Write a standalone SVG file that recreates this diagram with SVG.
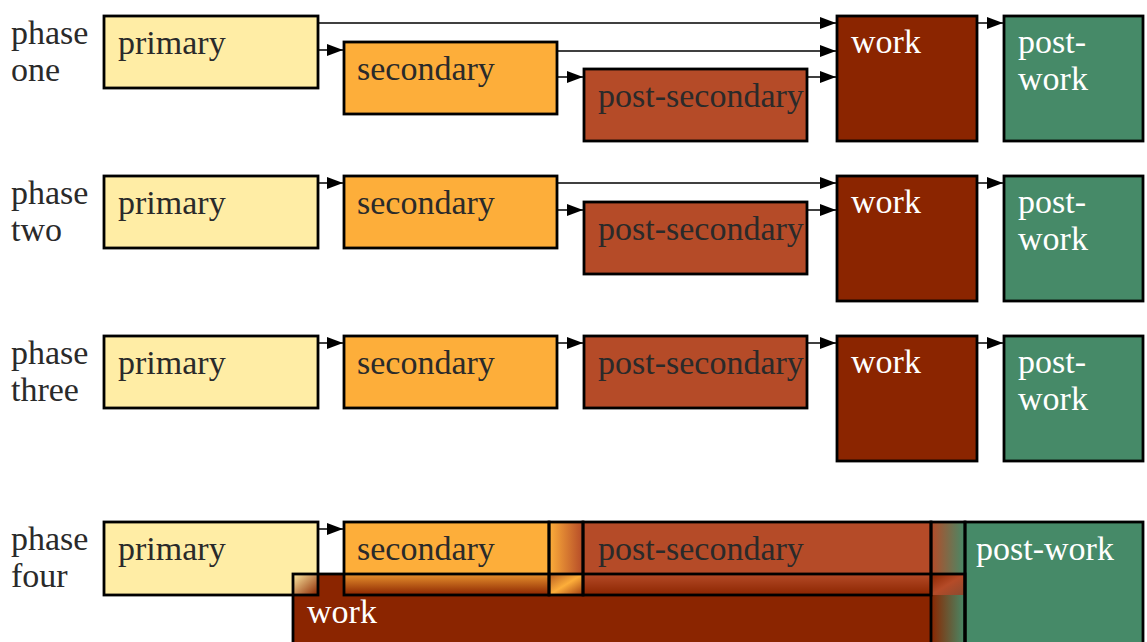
<svg xmlns="http://www.w3.org/2000/svg" width="1147" height="642" viewBox="0 0 1147 642">
<style>
text{font-family:"Liberation Serif","Times New Roman",serif;font-size:34px}
.lbl{fill:#2a2a2a}
.dk{fill:#2a2a2a}
.lt{fill:#ffffff}
.box{stroke:#000;stroke-width:2.8}
.ol{fill:none;stroke:#000;stroke-width:2.8}
.p{fill:#FFEDA5}
.s{fill:#FDAE3A}
.ps{fill:#B54B28}
.w{fill:#8B2500}
.pw{fill:#468A68}
.c{fill:none;stroke:#000;stroke-width:1.5;marker-end:url(#ah)}
</style>
<defs>
<marker id="ah" markerUnits="userSpaceOnUse" markerWidth="16" markerHeight="12" refX="16" refY="6" orient="auto"><path d="M0,0 L16,6 L0,12 z" fill="#000"/></marker>
<linearGradient id="gSPs" x1="0" y1="0" x2="1" y2="0"><stop offset="0" stop-color="#FDAE3A"/><stop offset="1" stop-color="#B54B28"/></linearGradient>
<linearGradient id="gPsPw" x1="0" y1="0" x2="1" y2="0"><stop offset="0" stop-color="#B54B28"/><stop offset="1" stop-color="#468A68"/></linearGradient>
<linearGradient id="gWPw" x1="0" y1="0" x2="1" y2="0"><stop offset="0" stop-color="#8B2500"/><stop offset="1" stop-color="#468A68"/></linearGradient>
<linearGradient id="gPW" x1="0" y1="0" x2="1" y2="1"><stop offset="0" stop-color="#FFEDA5"/><stop offset="1" stop-color="#8B2500"/></linearGradient>
<linearGradient id="gSW" x1="0" y1="0" x2="0" y2="1"><stop offset="0" stop-color="#E8922E"/><stop offset="1" stop-color="#8B2500"/></linearGradient>
<linearGradient id="gPsW" x1="0" y1="0" x2="0" y2="1"><stop offset="0" stop-color="#B54B28"/><stop offset="1" stop-color="#8B2500"/></linearGradient>
<linearGradient id="gX1" x1="0" y1="0" x2="1" y2="1"><stop offset="0" stop-color="#B55A20"/><stop offset="0.5" stop-color="#FDAE3A"/><stop offset="1" stop-color="#A03A10"/></linearGradient>
<linearGradient id="gX2" x1="0" y1="0" x2="1" y2="1"><stop offset="0" stop-color="#8B2500"/><stop offset="0.5" stop-color="#B54B28"/><stop offset="1" stop-color="#8A4A30"/></linearGradient>
</defs>

<g id="labels">
<text class="lbl" x="11" y="44">phase</text><text class="lbl" x="11" y="81">one</text>
<text class="lbl" x="11" y="204">phase</text><text class="lbl" x="11" y="241">two</text>
<text class="lbl" x="11" y="364">phase</text><text class="lbl" x="11" y="401">three</text>
<text class="lbl" x="11" y="550">phase</text><text class="lbl" x="11" y="587">four</text>
</g>

<g id="connectors">
<path class="c" d="M318,23 H836"/>
<path class="c" d="M318,50 H343"/>
<path class="c" d="M557,51 H836"/>
<path class="c" d="M557,77 H583"/>
<path class="c" d="M807,77 H836"/>
<path class="c" d="M977,23 H1003"/>
<path class="c" d="M318,183 H343"/>
<path class="c" d="M557,183 H836"/>
<path class="c" d="M557,210 H583"/>
<path class="c" d="M807,210 H836"/>
<path class="c" d="M977,183 H1003"/>
<path class="c" d="M318,343 H343"/>
<path class="c" d="M557,343 H583"/>
<path class="c" d="M807,343 H836"/>
<path class="c" d="M977,343 H1003"/>
<path class="c" d="M318,529 H343"/>
</g>

<g id="p1-primary"><rect class="box p" x="104" y="16" width="214" height="72"/><text class="dk" x="118" y="54">primary</text></g>
<g id="p1-secondary"><rect class="box s" x="344" y="42" width="213" height="72"/><text class="dk" x="357" y="80">secondary</text></g>
<g id="p1-postsecondary"><rect class="box ps" x="584" y="69" width="223" height="72"/><text class="dk" x="598" y="107">post-secondary</text></g>
<g id="p1-work"><rect class="box w" x="837" y="16" width="140" height="125"/><text class="lt" x="851" y="53">work</text></g>
<g id="p1-postwork"><rect class="box pw" x="1004" y="16" width="139" height="125"/><text class="lt" x="1018" y="53">post-</text><text class="lt" x="1018" y="90">work</text></g>

<g id="p2-primary"><rect class="box p" x="104" y="176" width="214" height="72"/><text class="dk" x="118" y="214">primary</text></g>
<g id="p2-secondary"><rect class="box s" x="344" y="176" width="213" height="72"/><text class="dk" x="357" y="214">secondary</text></g>
<g id="p2-postsecondary"><rect class="box ps" x="584" y="202" width="223" height="72"/><text class="dk" x="598" y="240">post-secondary</text></g>
<g id="p2-work"><rect class="box w" x="837" y="176" width="140" height="125"/><text class="lt" x="851" y="213">work</text></g>
<g id="p2-postwork"><rect class="box pw" x="1004" y="176" width="139" height="125"/><text class="lt" x="1018" y="213">post-</text><text class="lt" x="1018" y="250">work</text></g>

<g id="p3-primary"><rect class="box p" x="104" y="336" width="214" height="72"/><text class="dk" x="118" y="374">primary</text></g>
<g id="p3-secondary"><rect class="box s" x="344" y="336" width="213" height="72"/><text class="dk" x="357" y="374">secondary</text></g>
<g id="p3-postsecondary"><rect class="box ps" x="584" y="336" width="223" height="72"/><text class="dk" x="598" y="374">post-secondary</text></g>
<g id="p3-work"><rect class="box w" x="837" y="336" width="140" height="125"/><text class="lt" x="851" y="373">work</text></g>
<g id="p3-postwork"><rect class="box pw" x="1004" y="336" width="139" height="125"/><text class="lt" x="1018" y="373">post-</text><text class="lt" x="1018" y="410">work</text></g>

<g id="p4-fills">
<rect class="p" x="104" y="522" width="214" height="73"/>
<rect class="s" x="344" y="522" width="205" height="73"/>
<rect fill="url(#gSPs)" x="549" y="522" width="34" height="52"/>
<rect class="ps" x="583" y="522" width="348" height="73"/>
<rect fill="url(#gPsPw)" x="931" y="522" width="34" height="52"/>
<rect class="pw" x="965" y="522" width="178" height="125"/>
<rect class="w" x="293" y="574" width="638" height="75"/>
<rect fill="url(#gWPw)" x="931" y="595" width="34" height="55"/>
<rect fill="url(#gPW)" x="293" y="574" width="25" height="21"/>
<rect fill="url(#gSW)" x="344" y="574" width="205" height="21"/>
<rect fill="url(#gX1)" x="549" y="574" width="34" height="21"/>
<rect fill="url(#gPsW)" x="583" y="574" width="348" height="21"/>
<rect fill="url(#gX2)" x="931" y="574" width="34" height="21"/>
</g>
<g id="p4-primary"><rect class="ol" x="104" y="522" width="214" height="73"/><text class="dk" x="118" y="560">primary</text></g>
<g id="p4-secondary"><rect class="ol" x="344" y="522" width="205" height="73"/><text class="dk" x="357" y="560">secondary</text></g>
<g id="p4-blend1"><rect class="ol" x="549" y="522" width="34" height="73"/></g>
<g id="p4-postsecondary"><rect class="ol" x="583" y="522" width="348" height="73"/><text class="dk" x="598" y="560">post-secondary</text></g>
<g id="p4-blend2"><rect class="ol" x="931" y="522" width="34" height="130"/></g>
<g id="p4-postwork"><rect class="ol" x="965" y="522" width="178" height="130"/><text class="lt" x="976" y="560">post-work</text></g>
<g id="p4-work"><rect class="ol" x="293" y="574" width="672" height="80"/><text class="lt" x="307" y="623">work</text></g>
</svg>
